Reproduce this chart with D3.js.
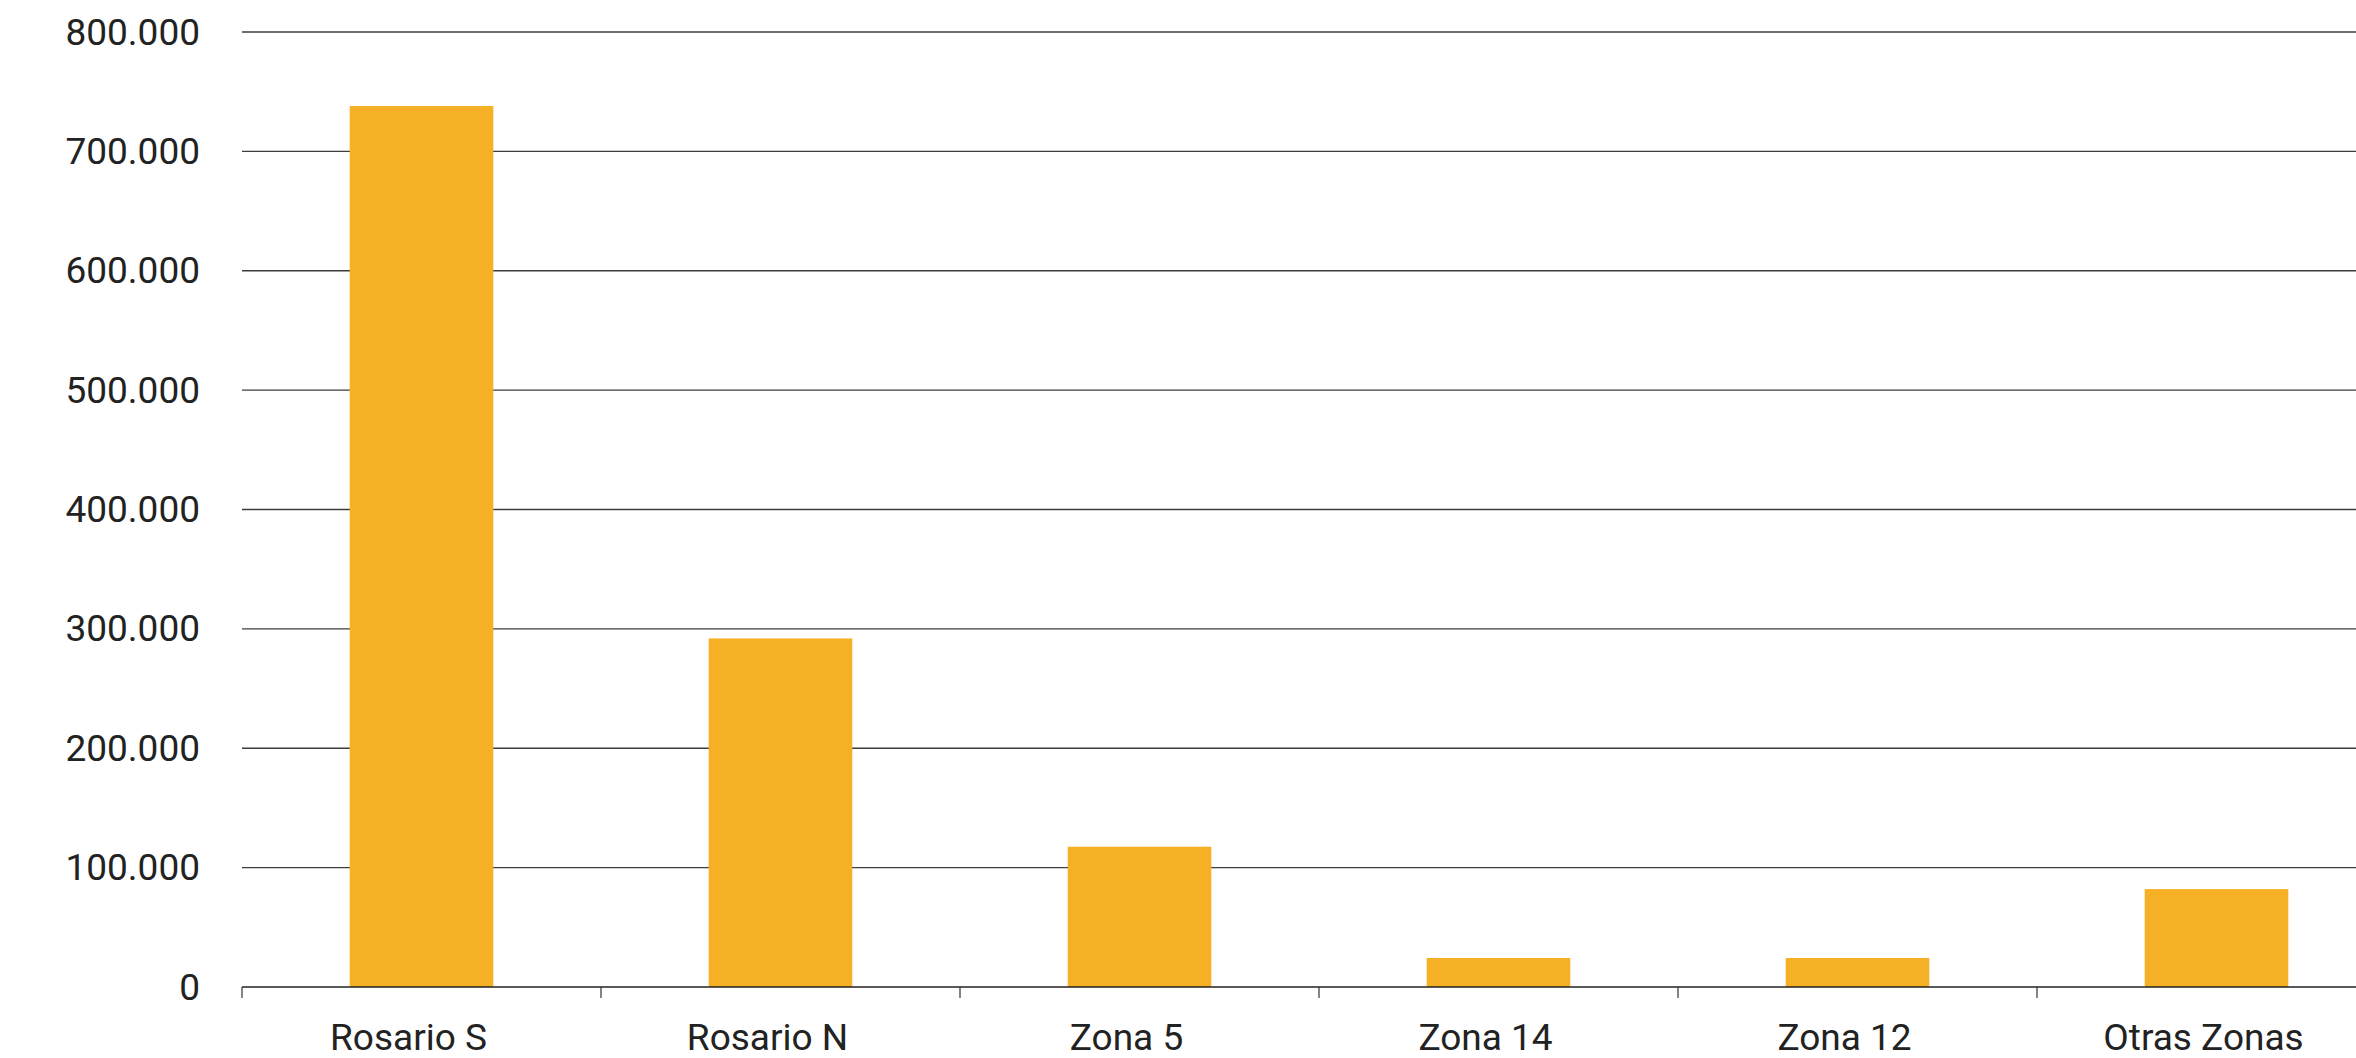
<!DOCTYPE html>
<html>
<head>
<meta charset="utf-8">
<script src="https://cdn.jsdelivr.net/npm/d3@7"></script>
<style>
  html, body { margin: 0; padding: 0; background: #fff; }
  svg { display: block; }
  text { font-family: Roboto, "Noto Sans", sans-serif; fill: #222; }
</style>
</head>
<body>
<svg id="chart" width="2356" height="1058"></svg>
<script>
const categories = ["Rosario S", "Rosario N", "Zona 5", "Zona 14", "Zona 12", "Otras Zonas"];
const values = [738000, 292000, 117500, 24300, 24300, 82000];
const yTicks = [0, 100000, 200000, 300000, 400000, 500000, 600000, 700000, 800000];

(function () {
const W = 2356;
const mLeft = 242, mTop = 32, mBottom = 987;
const step = 359;
const svg = d3.select("#chart");

const locale = d3.formatLocale({decimal: ",", thousands: ".", grouping: [3], currency: ["$", ""]});
const fmt = locale.format(",d");

const x = d3.scaleBand().domain(categories)
  .range([mLeft, mLeft + step * categories.length])
  .paddingInner(0.6).paddingOuter(0.3);
const y = d3.scaleLinear().domain([0, 800000]).range([mBottom, mTop]);

// gridlines
svg.append("g").selectAll("line").data(yTicks.filter(d => d > 0)).join("line")
  .attr("x1", mLeft).attr("x2", W)
  .attr("y1", d => y(d)).attr("y2", d => y(d))
  .attr("stroke", "#3c3c3c").attr("stroke-width", 1.3);

// y labels
svg.append("g").selectAll("text").data(yTicks).join("text")
  .attr("x", 200).attr("y", d => y(d))
  .attr("text-anchor", "end").attr("dominant-baseline", "central")
  .attr("font-size", 37)
  .text(d => fmt(d));

// bars
svg.append("g").selectAll("rect").data(categories).join("rect")
  .attr("x", d => x(d)).attr("width", x.bandwidth())
  .attr("y", (d, i) => y(values[i]))
  .attr("height", (d, i) => y(0) - y(values[i]))
  .attr("fill", "#F6B025");

// baseline
svg.append("line").attr("x1", mLeft).attr("x2", W)
  .attr("y1", y(0)).attr("y2", y(0))
  .attr("stroke", "#222").attr("stroke-width", 1.6);

// tick marks at band boundaries
const bounds = d3.range(categories.length + 1).map(i => mLeft + i * x.step());
svg.append("g").selectAll("line").data(bounds).join("line")
  .attr("x1", d => d).attr("x2", d => d)
  .attr("y1", y(0)).attr("y2", y(0) + 11)
  .attr("stroke", "#333").attr("stroke-width", 1.2);

// x labels
svg.append("g").selectAll("text").data(categories).join("text")
  .attr("x", d => x(d) + x.bandwidth() / 2 - 13)
  .attr("y", 1050)
  .attr("text-anchor", "middle")
  .attr("font-size", 37)
  .text(d => d);
})();
</script>
</body>
</html>
